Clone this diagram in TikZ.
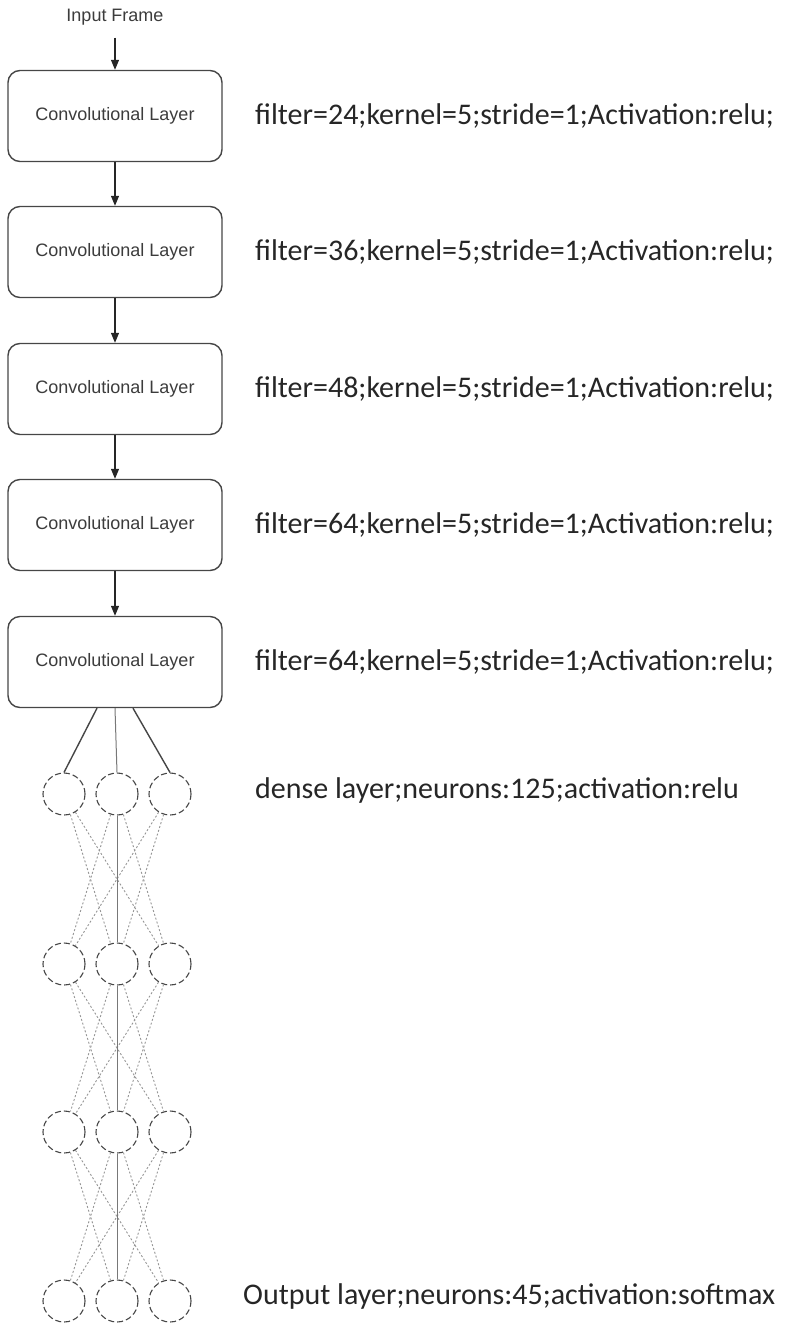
\documentclass[tikz,border=0pt]{standalone}
\usepackage{fontspec}
\usepackage{tikz}
\usetikzlibrary{arrows.meta,positioning}
\newfontfamily\boxfont{Liberation Sans}
\newfontfamily\specfont{Carlito}
\definecolor{edgeCol}{RGB}{70,70,70}
\definecolor{txtCol}{RGB}{60,60,60}
\definecolor{wireCol}{RGB}{150,150,150}
\tikzset{
  convbox/.style={draw=edgeCol,line width=1.4pt,rounded corners=12pt,
                  minimum width=214pt,minimum height=91pt,
                  font=\boxfont\fontsize{18}{20}\selectfont,text=txtCol},
  spec/.style={anchor=west,font=\specfont\fontsize{30}{34}\selectfont,text=black!85,inner sep=0pt},
  neuron/.style={circle,draw=edgeCol,line width=1.1pt,minimum size=42pt,inner sep=0pt,
                 dash pattern=on 6pt off 3pt},
  flow/.style={-{Triangle[length=10pt,width=8pt]},line width=1.2pt,draw=black!85},
  wire/.style={draw=wireCol,line width=0.9pt,dash pattern=on 2pt off 2pt},
  trunk/.style={draw=wireCol!80!black,line width=1pt},
}

\begin{document}
\begin{tikzpicture}[x=1pt,y=-1pt]
    \useasboundingbox (0,0) rectangle (790,1323);
    % input and conv stack
    \node[font=\boxfont\fontsize{18}{20}\selectfont,text=txtCol] (input) at (115,17) {Input Frame};
    \foreach \i/\y/\f in {1/116/24,2/252/36,3/389/48,4/525/64,5/662/64}{
       \node[convbox] (conv\i) at (115,\y) {Convolutional Layer};
       \node[spec] (spec\i) at (255,\y) {filter=\f;kernel=5;stride=1;Activation:relu;};
    }
    \draw[flow,shorten <=9pt] (input.south) -- (conv1.north);
    \foreach \i [remember=\i as \p (initially 1)] in {2,...,5}
       \draw[flow] (conv\p.south) -- (conv\i.north);
    % dense part: 4 rows of 3 neurons
    \foreach \r/\y in {1/794,2/964,3/1132,4/1301}
       \foreach \c/\x in {1/64,2/117,3/170}
          \node[neuron] (n\r\c) at (\x,\y) {};
    \draw[line width=1.4pt,draw=edgeCol] ([xshift=-18pt]conv5.south) -- (n11.north);
    \draw[trunk] (conv5.south) -- (n12.north);
    \draw[line width=1.4pt,draw=edgeCol] ([xshift=18pt]conv5.south) -- (n13.north);
    \foreach \r [evaluate=\r as \s using int(\r+1)] in {1,2,3}{
       \foreach \a/\b in {1/2,1/3,2/1,2/3,3/1,3/2}
          \draw[wire] (n\r\a) -- (n\s\b);
       \draw[trunk] (n\r2.south) -- (n\s2.north);
    }
    \node[spec] (dense) at (255,790) {dense layer;neurons:125;activation:relu};
    \node[spec] (outl) at (243,1296) {Output layer;neurons:45;activation:softmax};
\end{tikzpicture}
\end{document}
